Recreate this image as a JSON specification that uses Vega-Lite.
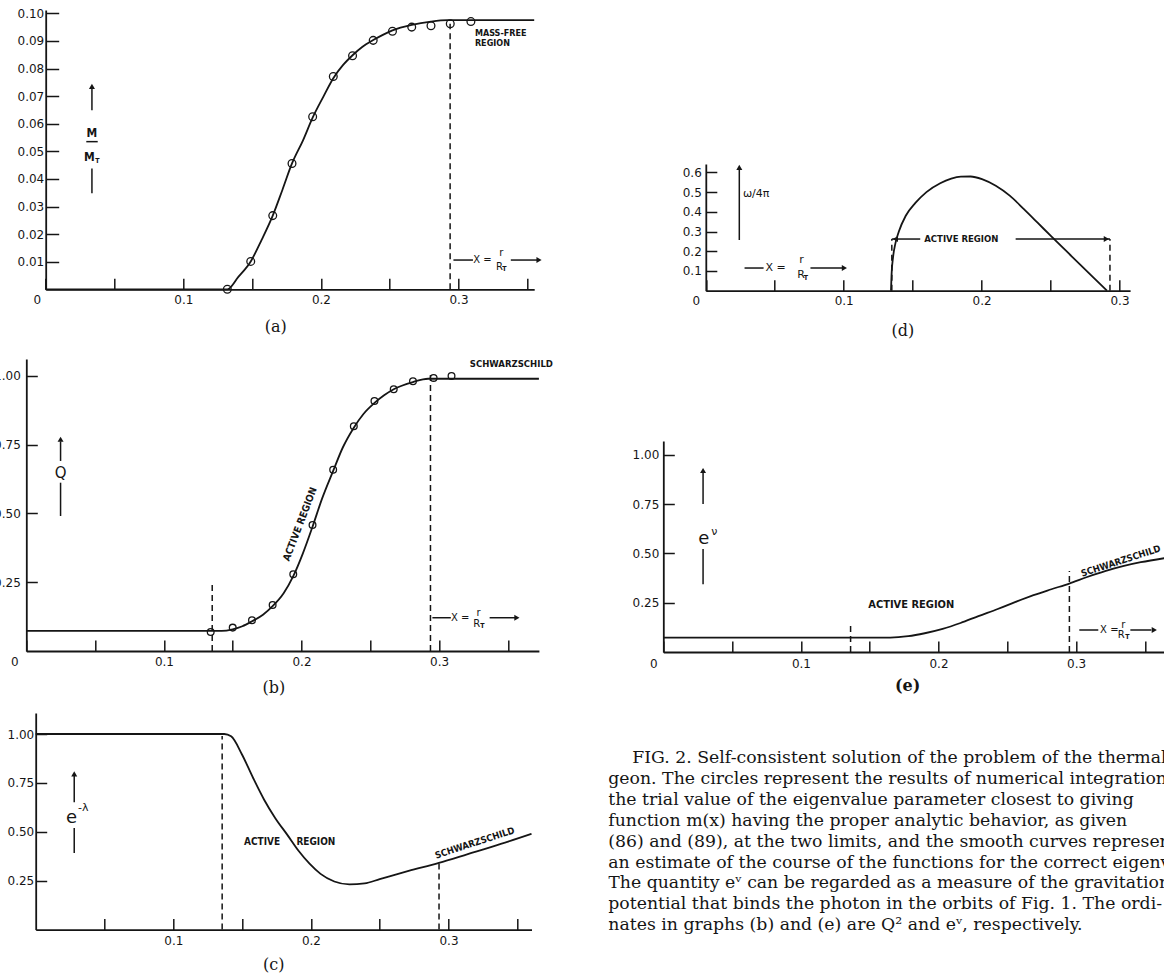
{
  "$schema": "https://vega.github.io/schema/vega-lite/v6.json",
  "background": "white",
  "padding": {"left": -6.7, "top": 0, "right": 0, "bottom": 0},
  "autosize": {"type": "pad"},
  "config": {
    "view": {"stroke": null},
    "axis": {"grid": false, "domainColor": "#151515", "tickColor": "#151515", "labelColor": "#151515", "domainWidth": 1.8, "tickWidth": 1.5, "labelFont": "DejaVu Sans", "labelFontSize": 12, "labelFontWeight": "normal", "labelOverlap": false, "labelFlush": false, "titleFont": "DejaVu Serif", "titleFontSize": 16, "titleFontWeight": "normal", "titleColor": "#151515"},
    "text": {"font": "Liberation Sans Narrow, DejaVu Sans Condensed, Liberation Sans", "fontWeight": "bold", "color": "#151515"},
    "line": {"color": "#151515", "strokeWidth": 1.8},
    "rule": {"color": "#151515", "strokeWidth": 1.5}
  },
  "spacing": 22,
  "hconcat": [
    {
      "spacing": 0,
      "bounds": "flush",
      "vconcat": [
        {"width": 10, "height": 10, "data": {"values": [{"s": 1}]}, "mark": {"type": "point", "opacity": 0}},
        {
          "width": 560, "height": 279.3,
          "encoding": {
            "x": {"field": "x", "type": "quantitative", "scale": {"domain": [0, 0.355], "range": [19.4, 507.9], "nice": false},
              "axis": {"values": [0,0.05,0.1,0.15,0.2,0.25,0.3,0.35], "labelExpr": "datum.value == 0 ? '0' : (indexof([0.1, 0.2, 0.3], datum.value) >= 0 ? format(datum.value, '.1f') : '')", "labelOffset": {"condition": {"test": "datum.value == 0", "value": -9}, "value": 0}, "tickSize": -11, "labelPadding": 16.5, "title": "(a)", "titleX": 249, "titleY": 37.4, "titleBaseline": "middle", "titleAlign": "center"}},
            "y": {"field": "y", "type": "quantitative", "scale": {"domain": [0, 0.1012], "nice": false},
              "axis": {"values": [0.01,0.02,0.03,0.04,0.05,0.06,0.07,0.08,0.09,0.1], "format": ".2f", "tickSize": -13, "labelPadding": 15, "offset": -19.4, "title": null}}
          },
          "layer": [
            {
              "data": {"values": [{"x":0,"y":0},{"x":0.132,"y":0},{"x":0.140,"y":0.0045},{"x":0.149,"y":0.0101},{"x":0.157,"y":0.018},{"x":0.165,"y":0.0267},{"x":0.172,"y":0.036},{"x":0.179,"y":0.0456},{"x":0.187,"y":0.054},{"x":0.194,"y":0.0622},{"x":0.202,"y":0.070},{"x":0.209,"y":0.0765},{"x":0.216,"y":0.0812},{"x":0.223,"y":0.0848},{"x":0.230,"y":0.0878},{"x":0.238,"y":0.0903},{"x":0.245,"y":0.0922},{"x":0.252,"y":0.0938},{"x":0.266,"y":0.0958},{"x":0.280,"y":0.0970},{"x":0.292,"y":0.0975},{"x":0.355,"y":0.0975}]},
              "mark": {"type": "line", "interpolate": "monotone"}
            },
            {
              "data": {"values": [{"x":0.132,"y":0},{"x":0.149,"y":0.0101},{"x":0.165,"y":0.0267},{"x":0.179,"y":0.0456},{"x":0.194,"y":0.0625},{"x":0.209,"y":0.0771},{"x":0.223,"y":0.0846},{"x":0.238,"y":0.0902},{"x":0.252,"y":0.0935},{"x":0.266,"y":0.095},{"x":0.280,"y":0.0955},{"x":0.294,"y":0.0962},{"x":0.309,"y":0.097}]},
              "mark": {"type": "point", "shape": "circle", "filled": false, "size": 60, "stroke": "#151515", "strokeWidth": 1.3, "opacity": 1}
            },
            {
              "data": {"values": [{"x":0.2939,"y":0,"x2":0.2939,"y2":0.0962}]},
              "mark": {"type": "rule", "strokeDash": [6, 4]},
              "encoding": {"x2": {"field": "x2"}, "y2": {"field": "y2"}}
            },
            {
              "data": {"values": [{"x":0.2963,"y":0.0106,"x2":0.3105,"y2":0.0106},{"x":0.338,"y":0.0106,"x2":0.3575,"y2":0.0106},{"x":0.0336,"y":0.0649,"x2":0.0336,"y2":0.0728},{"x":0.0336,"y":0.0348,"x2":0.0336,"y2":0.0438},{"x":0.0295,"y":0.0535,"x2":0.0378,"y2":0.0535}]},
              "mark": {"type": "rule"},
              "encoding": {"x2": {"field": "x2"}, "y2": {"field": "y2"}}
            },
            {
              "data": {"values": [{"x":0.3585,"y":0.0106}]},
              "mark": {"type": "point", "shape": "triangle-right", "filled": true, "size": 36, "color": "#151515", "opacity": 1}
            },
            {
              "data": {"values": [{"x":0.0336,"y":0.0735}]},
              "mark": {"type": "point", "shape": "triangle-up", "filled": true, "size": 36, "color": "#151515", "opacity": 1}
            },
            {
              "data": {"values": [{"x":0.3119,"y":0.0929,"label":"MASS-FREE"},{"x":0.3119,"y":0.0891,"label":"REGION"}]},
              "mark": {"type": "text", "fontSize": 9, "align": "left", "baseline": "middle"},
              "encoding": {"text": {"field": "label"}}
            },
            {
              "data": {"values": [{"x":0.3173,"y":0.0106,"label":"X ="},{"x":0.3311,"y":0.0130,"label":"r"},{"x":0.3297,"y":0.0082,"label":"R"}]},
              "mark": {"type": "text", "font": "DejaVu Sans", "fontWeight": "normal", "fontSize": 10, "align": "center", "baseline": "middle"},
              "encoding": {"text": {"field": "label"}}
            },
            {
              "data": {"values": [{"x":0.3334,"y":0.0074,"label":"T"},{"x":0.0375,"y":0.0465,"label":"T"}]},
              "mark": {"type": "text", "fontSize": 7, "align": "center", "baseline": "middle"},
              "encoding": {"text": {"field": "label"}}
            },
            {
              "data": {"values": [{"x":0.0336,"y":0.0566,"label":"M"},{"x":0.0317,"y":0.0479,"label":"M"}]},
              "mark": {"type": "text", "fontSize": 12, "align": "center", "baseline": "middle"},
              "encoding": {"text": {"field": "label"}}
            }
          ]
        },
        {"width": 10, "height": 68.7, "data": {"values": [{"s": 1}]}, "mark": {"type": "point", "opacity": 0}},
        {
          "width": 560, "height": 292,
          "encoding": {
            "x": {"field": "x", "type": "quantitative", "scale": {"domain": [0, 0.3725], "range": [0, 512.6], "nice": false},
              "axis": {"values": [0,0.05,0.1,0.15,0.2,0.25,0.3,0.35], "labelExpr": "datum.value == 0 ? '0' : (indexof([0.1, 0.2, 0.3], datum.value) >= 0 ? format(datum.value, '.1f') : '')", "labelOffset": {"condition": {"test": "datum.value == 0", "value": -12}, "value": 0}, "tickSize": -11, "labelPadding": 16.5, "title": "(b)", "titleX": 247, "titleY": 36.6, "titleBaseline": "middle", "titleAlign": "center"}},
            "y": {"field": "y", "type": "quantitative", "scale": {"domain": [0, 1.0618], "nice": false},
              "axis": {"values": [0.25,0.5,0.75,1], "format": ".2f", "tickSize": -11, "labelPadding": 17, "title": null}}
          },
          "layer": [
            {
              "data": {"values": [{"x":0,"y":0.073},{"x":0.142,"y":0.073},{"x":0.150,"y":0.079},{"x":0.157,"y":0.09},{"x":0.164,"y":0.108},{"x":0.172,"y":0.132},{"x":0.179,"y":0.163},{"x":0.187,"y":0.21},{"x":0.194,"y":0.272},{"x":0.201,"y":0.355},{"x":0.208,"y":0.452},{"x":0.215,"y":0.555},{"x":0.223,"y":0.655},{"x":0.230,"y":0.74},{"x":0.238,"y":0.812},{"x":0.245,"y":0.862},{"x":0.253,"y":0.902},{"x":0.260,"y":0.93},{"x":0.267,"y":0.952},{"x":0.281,"y":0.978},{"x":0.292,"y":0.99},{"x":0.3725,"y":0.99}]},
              "mark": {"type": "line", "interpolate": "monotone"}
            },
            {
              "data": {"values": [{"x":0.134,"y":0.069},{"x":0.150,"y":0.085},{"x":0.164,"y":0.112},{"x":0.179,"y":0.167},{"x":0.194,"y":0.279},{"x":0.208,"y":0.458},{"x":0.223,"y":0.659},{"x":0.238,"y":0.817},{"x":0.253,"y":0.909},{"x":0.267,"y":0.952},{"x":0.281,"y":0.981},{"x":0.296,"y":0.993},{"x":0.309,"y":1.0}]},
              "mark": {"type": "point", "shape": "circle", "filled": false, "size": 45, "stroke": "#151515", "strokeWidth": 1.3, "opacity": 1}
            },
            {
              "data": {"values": [{"x":0.1351,"y":0,"x2":0.1351,"y2":0.248},{"x":0.2937,"y":0,"x2":0.2937,"y2":1.008}]},
              "mark": {"type": "rule", "strokeDash": [6, 4]},
              "encoding": {"x2": {"field": "x2"}, "y2": {"field": "y2"}}
            },
            {
              "data": {"values": [{"x":0.2951,"y":0.121,"x2":0.3085,"y2":0.121},{"x":0.3367,"y":0.121,"x2":0.3555,"y2":0.121},{"x":0.0249,"y":0.691,"x2":0.0249,"y2":0.762},{"x":0.0249,"y":0.491,"x2":0.0249,"y2":0.612}]},
              "mark": {"type": "rule"},
              "encoding": {"x2": {"field": "x2"}, "y2": {"field": "y2"}}
            },
            {
              "data": {"values": [{"x":0.3565,"y":0.121}]},
              "mark": {"type": "point", "shape": "triangle-right", "filled": true, "size": 36, "color": "#151515", "opacity": 1}
            },
            {
              "data": {"values": [{"x":0.0249,"y":0.77}]},
              "mark": {"type": "point", "shape": "triangle-up", "filled": true, "size": 36, "color": "#151515", "opacity": 1}
            },
            {
              "data": {"values": [{"x":0.3525,"y":1.0436,"label":"SCHWARZSCHILD"}]},
              "mark": {"type": "text", "fontSize": 9.5, "align": "center", "baseline": "middle"},
              "encoding": {"text": {"field": "label"}}
            },
            {
              "data": {"values": [{"x":0.199,"y":0.461,"label":"ACTIVE  REGION"}]},
              "mark": {"type": "text", "fontSize": 10, "align": "center", "baseline": "middle", "angle": -69},
              "encoding": {"text": {"field": "label"}}
            },
            {
              "data": {"values": [{"x":0.3153,"y":0.121,"label":"X ="},{"x":0.3287,"y":0.139,"label":"r"},{"x":0.3273,"y":0.0993,"label":"R"}]},
              "mark": {"type": "text", "font": "DejaVu Sans", "fontWeight": "normal", "fontSize": 10, "align": "center", "baseline": "middle"},
              "encoding": {"text": {"field": "label"}}
            },
            {
              "data": {"values": [{"x":0.3314,"y":0.0909,"label":"T"}]},
              "mark": {"type": "text", "fontSize": 7, "align": "center", "baseline": "middle"},
              "encoding": {"text": {"field": "label"}}
            },
            {
              "data": {"values": [{"x":0.0249,"y":0.648,"label":"Q"}]},
              "mark": {"type": "text", "font": "DejaVu Sans", "fontWeight": "normal", "fontSize": 15, "align": "center", "baseline": "middle"},
              "encoding": {"text": {"field": "label"}}
            }
          ]
        },
        {"width": 10, "height": 61.7, "data": {"values": [{"s": 1}]}, "mark": {"type": "point", "opacity": 0}},
        {
          "width": 560, "height": 216.6,
          "encoding": {
            "x": {"field": "x", "type": "quantitative", "scale": {"domain": [0, 0.3603], "range": [9.4, 505.2], "nice": false},
              "axis": {"values": [0.05,0.1,0.15,0.2,0.25,0.3,0.35], "labelExpr": "indexof([0.1, 0.2, 0.3], datum.value) >= 0 ? format(datum.value, '.1f') : ''", "tickSize": -11, "labelPadding": 17, "title": "(c)", "titleX": 247, "titleY": 34.7, "titleBaseline": "middle", "titleAlign": "center"}},
            "y": {"field": "y", "type": "quantitative", "scale": {"domain": [0, 1.1074], "nice": false},
              "axis": {"values": [0.25,0.5,0.75,1], "format": ".2f", "tickSize": -11, "labelPadding": 13, "offset": -9.4, "title": null}}
          },
          "layer": [
            {
              "data": {"values": [{"x":0,"y":1.0},{"x":0.137,"y":1.0},{"x":0.142,"y":0.988},{"x":0.150,"y":0.894},{"x":0.158,"y":0.775},{"x":0.166,"y":0.664},{"x":0.174,"y":0.571},{"x":0.183,"y":0.483},{"x":0.191,"y":0.403},{"x":0.199,"y":0.337},{"x":0.207,"y":0.285},{"x":0.217,"y":0.246},{"x":0.228,"y":0.231},{"x":0.239,"y":0.236},{"x":0.250,"y":0.258},{"x":0.271,"y":0.300},{"x":0.293,"y":0.341},{"x":0.314,"y":0.386},{"x":0.338,"y":0.438},{"x":0.3603,"y":0.49}]},
              "mark": {"type": "line", "interpolate": "monotone"}
            },
            {
              "data": {"values": [{"x":0.1355,"y":0,"x2":0.1355,"y2":0.99},{"x":0.2931,"y":0,"x2":0.2931,"y2":0.342}]},
              "mark": {"type": "rule", "strokeDash": [6, 4]},
              "encoding": {"x2": {"field": "x2"}, "y2": {"field": "y2"}}
            },
            {
              "data": {"values": [{"x":0.028,"y":0.651,"x2":0.028,"y2":0.788},{"x":0.028,"y":0.392,"x2":0.028,"y2":0.519}]},
              "mark": {"type": "rule"},
              "encoding": {"x2": {"field": "x2"}, "y2": {"field": "y2"}}
            },
            {
              "data": {"values": [{"x":0.028,"y":0.796}]},
              "mark": {"type": "point", "shape": "triangle-up", "filled": true, "size": 36, "color": "#151515", "opacity": 1}
            },
            {
              "data": {"values": [{"x":0.1645,"y":0.448,"label":"ACTIVE"},{"x":0.2036,"y":0.448,"label":"REGION"}]},
              "mark": {"type": "text", "fontSize": 10, "align": "center", "baseline": "middle"},
              "encoding": {"text": {"field": "label"}}
            },
            {
              "data": {"values": [{"x":0.3191,"y":0.443,"label":"SCHWARZSCHILD"}]},
              "mark": {"type": "text", "fontSize": 9.5, "align": "center", "baseline": "middle", "angle": -18},
              "encoding": {"text": {"field": "label"}}
            },
            {
              "data": {"values": [{"x":0.0261,"y":0.570,"label":"e"}]},
              "mark": {"type": "text", "font": "DejaVu Sans", "fontWeight": "normal", "fontSize": 18, "align": "center", "baseline": "middle"},
              "encoding": {"text": {"field": "label"}}
            },
            {
              "data": {"values": [{"x":0.0345,"y":0.621,"label":"-λ"}]},
              "mark": {"type": "text", "font": "DejaVu Sans", "fontWeight": "normal", "fontSize": 11, "align": "center", "baseline": "middle"},
              "encoding": {"text": {"field": "label"}}
            }
          ]
        }
      ]
    },
    {
      "spacing": 0,
      "bounds": "flush",
      "vconcat": [
        {"width": 10, "height": 163.3, "data": {"values": [{"s": 1}]}, "mark": {"type": "point", "opacity": 0}},
        {
          "width": 557, "height": 126.7,
          "encoding": {
            "x": {"field": "x", "type": "quantitative", "scale": {"domain": [0, 0.3077], "range": [97.5, 521.8], "nice": false},
              "axis": {"values": [0,0.05,0.1,0.15,0.2,0.25,0.3], "labelExpr": "datum.value == 0 ? '0' : (indexof([0.1, 0.2, 0.3], datum.value) >= 0 ? format(datum.value, '.1f') : '')", "labelOffset": {"condition": {"test": "datum.value == 0", "value": -10}, "value": 0}, "tickSize": -11, "labelPadding": 16, "title": "(d)", "titleX": 294, "titleY": 40, "titleBaseline": "middle", "titleAlign": "center"}},
            "y": {"field": "y", "type": "quantitative", "scale": {"domain": [0, 0.6425], "nice": false},
              "axis": {"values": [0.1,0.2,0.3,0.4,0.5,0.6], "format": ".1f", "tickSize": -11, "labelPadding": 15.5, "offset": -97.5, "title": null}}
          },
          "layer": [
            {
              "data": {"values": [{"x":0.1343,"y":0},{"x":0.1347,"y":0.08},{"x":0.1358,"y":0.17},{"x":0.1375,"y":0.24},{"x":0.140,"y":0.30},{"x":0.145,"y":0.38},{"x":0.152,"y":0.445},{"x":0.160,"y":0.50},{"x":0.170,"y":0.545},{"x":0.178,"y":0.568},{"x":0.185,"y":0.578},{"x":0.192,"y":0.579},{"x":0.2003,"y":0.566},{"x":0.2103,"y":0.532},{"x":0.2204,"y":0.482},{"x":0.2305,"y":0.415},{"x":0.2406,"y":0.345},{"x":0.2506,"y":0.275},{"x":0.2657,"y":0.172},{"x":0.2808,"y":0.069},{"x":0.2909,"y":0}]},
              "mark": {"type": "line", "interpolate": "monotone"}
            },
            {
              "data": {"values": [{"x":0.1349,"y":0,"x2":0.1349,"y2":0.262},{"x":0.2931,"y":0,"x2":0.2931,"y2":0.262}]},
              "mark": {"type": "rule", "strokeDash": [6, 4]},
              "encoding": {"x2": {"field": "x2"}, "y2": {"field": "y2"}}
            },
            {
              "data": {"values": [{"x":0.1349,"y":0.262,"x2":0.1555,"y2":0.262},{"x":0.2247,"y":0.262,"x2":0.2931,"y2":0.262},{"x":0.0281,"y":0.115,"x2":0.0419,"y2":0.115},{"x":0.0759,"y":0.115,"x2":0.0995,"y2":0.115},{"x":0.0243,"y":0.257,"x2":0.0243,"y2":0.615}]},
              "mark": {"type": "rule"},
              "encoding": {"x2": {"field": "x2"}, "y2": {"field": "y2"}}
            },
            {
              "data": {"values": [{"x":0.2905,"y":0.262},{"x":0.1005,"y":0.115}]},
              "mark": {"type": "point", "shape": "triangle-right", "filled": true, "size": 36, "color": "#151515", "opacity": 1}
            },
            {
              "data": {"values": [{"x":0.1375,"y":0.262}]},
              "mark": {"type": "point", "shape": "triangle-left", "filled": true, "size": 36, "color": "#151515", "opacity": 1}
            },
            {
              "data": {"values": [{"x":0.0243,"y":0.625}]},
              "mark": {"type": "point", "shape": "triangle-up", "filled": true, "size": 36, "color": "#151515", "opacity": 1}
            },
            {
              "data": {"values": [{"x":0.1853,"y":0.262,"label":"ACTIVE  REGION"}]},
              "mark": {"type": "text", "fontSize": 9.5, "align": "center", "baseline": "middle"},
              "encoding": {"text": {"field": "label"}}
            },
            {
              "data": {"values": [{"x":0.0507,"y":0.115,"label":"X ="},{"x":0.0695,"y":0.156,"label":"r"},{"x":0.069,"y":0.081,"label":"R"}]},
              "mark": {"type": "text", "font": "DejaVu Sans", "fontWeight": "normal", "fontSize": 11, "align": "center", "baseline": "middle"},
              "encoding": {"text": {"field": "label"}}
            },
            {
              "data": {"values": [{"x":0.0726,"y":0.066,"label":"T"}]},
              "mark": {"type": "text", "fontSize": 7, "align": "center", "baseline": "middle"},
              "encoding": {"text": {"field": "label"}}
            },
            {
              "data": {"values": [{"x":0.0365,"y":0.49,"label":"ω/4π"}]},
              "mark": {"type": "text", "font": "DejaVu Sans", "fontWeight": "normal", "fontSize": 11, "align": "center", "baseline": "middle"},
              "encoding": {"text": {"field": "label"}}
            }
          ]
        },
        {"width": 10, "height": 150, "data": {"values": [{"s": 1}]}, "mark": {"type": "point", "opacity": 0}},
        {
          "width": 557, "height": 211,
          "encoding": {
            "x": {"field": "x", "type": "quantitative", "scale": {"domain": [0, 0.3645], "range": [55, 556.6], "nice": false},
              "axis": {"values": [0,0.05,0.1,0.15,0.2,0.25,0.3,0.35], "labelExpr": "datum.value == 0 ? '0' : (indexof([0.1, 0.2, 0.3], datum.value) >= 0 ? format(datum.value, '.1f') : '')", "labelOffset": {"condition": {"test": "datum.value == 0", "value": -10}, "value": 0}, "tickSize": -11, "labelPadding": 17.5, "title": "(e)", "titleFontWeight": "bold", "titleX": 298.8, "titleY": 34, "titleBaseline": "middle", "titleAlign": "center"}},
            "y": {"field": "y", "type": "quantitative", "scale": {"domain": [0, 1.0694], "nice": false},
              "axis": {"values": [0.25,0.5,0.75,1], "format": ".2f", "tickSize": -11, "labelPadding": 15.5, "offset": -55, "title": null}}
          },
          "layer": [
            {
              "data": {"values": [{"x":0,"y":0.073},{"x":0.165,"y":0.073},{"x":0.178,"y":0.080},{"x":0.190,"y":0.095},{"x":0.203,"y":0.117},{"x":0.216,"y":0.147},{"x":0.229,"y":0.182},{"x":0.243,"y":0.218},{"x":0.256,"y":0.254},{"x":0.269,"y":0.288},{"x":0.282,"y":0.318},{"x":0.295,"y":0.347},{"x":0.308,"y":0.38},{"x":0.321,"y":0.41},{"x":0.334,"y":0.435},{"x":0.347,"y":0.455},{"x":0.3645,"y":0.476}]},
              "mark": {"type": "line", "interpolate": "monotone", "clip": true}
            },
            {
              "data": {"values": [{"x":0.1361,"y":0,"x2":0.1361,"y2":0.149},{"x":0.2951,"y":0,"x2":0.2951,"y2":0.41}]},
              "mark": {"type": "rule", "strokeDash": [6, 4]},
              "encoding": {"x2": {"field": "x2"}, "y2": {"field": "y2"}}
            },
            {
              "data": {"values": [{"x":0.3023,"y":0.1115,"x2":0.3161,"y2":0.1115},{"x":0.3394,"y":0.1115,"x2":0.3547,"y2":0.1115},{"x":0.0289,"y":0.343,"x2":0.0289,"y2":0.522},{"x":0.0289,"y":0.75,"x2":0.0289,"y2":0.91}]},
              "mark": {"type": "rule"},
              "encoding": {"x2": {"field": "x2"}, "y2": {"field": "y2"}}
            },
            {
              "data": {"values": [{"x":0.3568,"y":0.1115}]},
              "mark": {"type": "point", "shape": "triangle-right", "filled": true, "size": 36, "color": "#151515", "opacity": 1}
            },
            {
              "data": {"values": [{"x":0.0289,"y":0.92}]},
              "mark": {"type": "point", "shape": "triangle-up", "filled": true, "size": 36, "color": "#151515", "opacity": 1}
            },
            {
              "data": {"values": [{"x":0.1802,"y":0.238,"label":"ACTIVE  REGION"}]},
              "mark": {"type": "text", "fontSize": 11, "align": "center", "baseline": "middle"},
              "encoding": {"text": {"field": "label"}}
            },
            {
              "data": {"values": [{"x":0.3325,"y":0.461,"label":"SCHWARZSCHILD"}]},
              "mark": {"type": "text", "fontSize": 9.5, "align": "center", "baseline": "middle", "angle": -18, "clip": true},
              "encoding": {"text": {"field": "label"}}
            },
            {
              "data": {"values": [{"x":0.3241,"y":0.1115,"label":"X ="},{"x":0.3343,"y":0.137,"label":"r"},{"x":0.3328,"y":0.086,"label":"R"}]},
              "mark": {"type": "text", "font": "DejaVu Sans", "fontWeight": "normal", "fontSize": 10, "align": "center", "baseline": "middle"},
              "encoding": {"text": {"field": "label"}}
            },
            {
              "data": {"values": [{"x":0.3372,"y":0.076,"label":"T"}]},
              "mark": {"type": "text", "fontSize": 7, "align": "center", "baseline": "middle"},
              "encoding": {"text": {"field": "label"}}
            },
            {
              "data": {"values": [{"x":0.0294,"y":0.571,"label":"e"}]},
              "mark": {"type": "text", "font": "DejaVu Sans", "fontWeight": "normal", "fontSize": 18, "align": "center", "baseline": "middle"},
              "encoding": {"text": {"field": "label"}}
            },
            {
              "data": {"values": [{"x":0.037,"y":0.61,"label":"ν"}]},
              "mark": {"type": "text", "font": "DejaVu Sans", "fontWeight": "normal", "fontSize": 11, "align": "center", "baseline": "middle"},
              "encoding": {"text": {"field": "label"}}
            }
          ]
        },
        {"width": 10, "height": 93.5, "data": {"values": [{"s": 1}]}, "mark": {"type": "point", "opacity": 0}},
        {
          "width": 557, "height": 191.4,
          "encoding": {
            "x": {"datum": 0, "type": "quantitative", "scale": {"domain": [0, 1]}, "axis": null},
            "y": {"field": "line", "type": "quantitative", "scale": {"domain": [-0.6, 8.6], "reverse": true, "nice": false, "zero": false}, "axis": null},
            "text": {"field": "text"}
          },
          "layer": [
            {
              "data": {"values": [{"line": 0, "text": "FIG. 2. Self-consistent solution of the problem of the thermal"}]},
              "mark": {"type": "text", "font": "DejaVu Serif", "fontSize": 17.3, "fontWeight": "normal", "align": "left", "baseline": "middle", "dx": 24, "clip": true, "color": "#151515"}
            },
            {
              "data": {"values": [
                {"line": 1, "text": "geon. The circles represent the results of numerical integration"},
                {"line": 2, "text": "the trial value of the eigenvalue parameter closest to giving"},
                {"line": 3, "text": "function m(x) having the proper analytic behavior, as given"},
                {"line": 4, "text": "(86) and (89), at the two limits, and the smooth curves represent"},
                {"line": 5, "text": "an estimate of the course of the functions for the correct eigenvalue."},
                {"line": 6, "text": "The quantity eᵛ can be regarded as a measure of the gravitational"},
                {"line": 7, "text": "potential that binds the photon in the orbits of Fig. 1. The ordi-"},
                {"line": 8, "text": "nates in graphs (b) and (e) are Q² and eᵛ, respectively."}
              ]},
              "mark": {"type": "text", "font": "DejaVu Serif", "fontSize": 17.3, "fontWeight": "normal", "align": "left", "baseline": "middle", "clip": true, "color": "#151515"}
            }
          ]
        }
      ]
    }
  ]
}
